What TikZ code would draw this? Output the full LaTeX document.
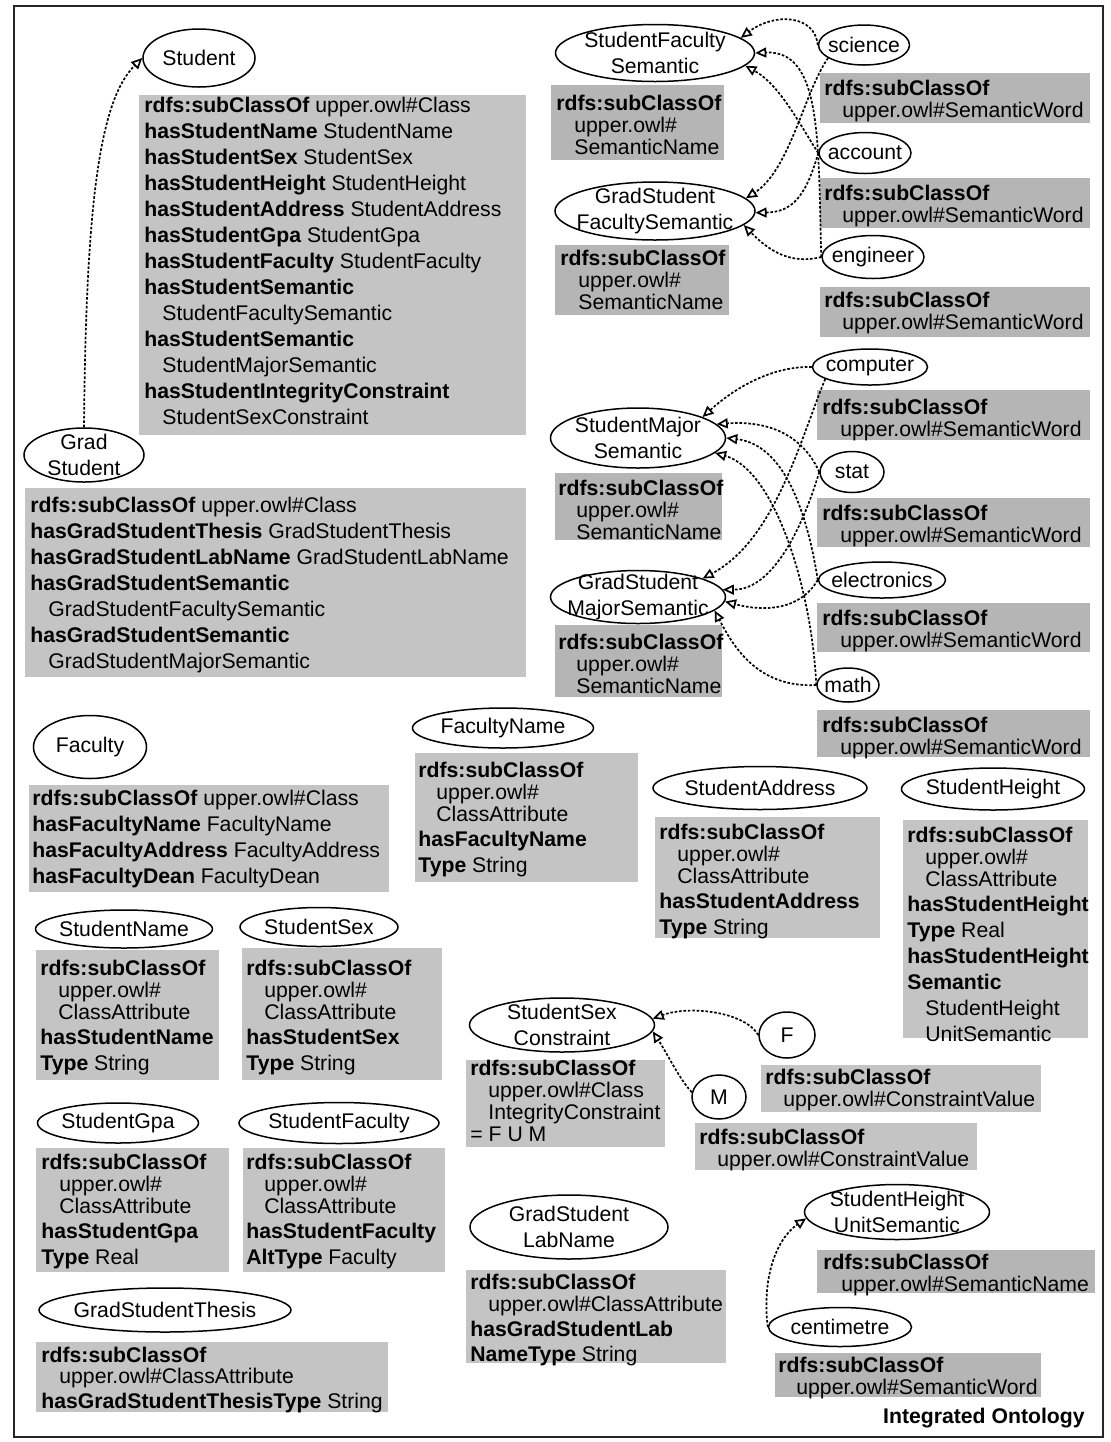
\documentclass[tikz,border=0pt]{standalone}
\usepackage{fontspec}
\setmainfont{Liberation Sans}
\usetikzlibrary{arrows.meta,shapes.geometric,fit}
\newdimen\pxu \pxu=0.5pt
\newcommand\pfont{\fontsize{10.6pt}{13pt}\selectfont}
\newcommand\kw[1]{\textbf{#1}}
\newcommand\indt{\hspace*{9pt}}
\newcommand\smname{\kw{rdfs:subClassOf}\\[-2pt]\indt upper.owl\#\\[-2pt]\indt SemanticName}
\newcommand\swword{\kw{rdfs:subClassOf}\\[-2pt]\indt upper.owl\#SemanticWord}
\newcommand\clattr{\kw{rdfs:subClassOf}\\[-2pt]\indt upper.owl\#\\[-2pt]\indt ClassAttribute\\[-0.5pt]}
\begin{document}
\begin{tikzpicture}[x=0.5pt,y=-0.5pt,font=\pfont,
  ell/.style 2 args={ellipse,draw,line width=0.75pt,minimum width=#1\pxu,minimum height=#2\pxu,inner xsep=-40pt,inner ysep=-40pt,align=center},
  gbox/.style={fill=black!23,inner sep=0pt},
  dbox/.style={fill=black!29,inner sep=0pt},
  txt/.style={anchor=north west,inner sep=0pt,align=left},
  arr/.style={-{Triangle[open,length=5.5pt,width=5pt]},line width=0.85pt,dash pattern=on 1.3pt off 0.9pt}]
\useasboundingbox (0,0) rectangle (1111,1442);
\fill[white] (0,0) rectangle (1111,1442);
\node[draw,line width=1pt,black!85,inner sep=0pt,fit={(14,6) (1103,1437)}] (frame) {};

% ---------- gray boxes ----------
\node[gbox,fit={(139,95) (526,435)}] (bA) {};
\node[gbox,fit={(25,488) (526,677)}] (bB) {};
\node[dbox,fit={(551,85) (724,160)}] (bsfs) {};
\node[dbox,fit={(555,245) (729,315)}] (bgsfs) {};
\node[dbox,fit={(820,73) (1090,123)}] (bsci) {};
\node[dbox,fit={(820,178) (1090,228)}] (bacc) {};
\node[dbox,fit={(820,287) (1090,337)}] (beng) {};
\node[dbox,fit={(817,390) (1090,440)}] (bcomp) {};
\node[dbox,fit={(555,473) (722,540)}] (bsms) {};
\node[dbox,fit={(817,498) (1090,547)}] (bstat) {};
\node[dbox,fit={(555,625) (722,697)}] (bgsms) {};
\node[dbox,fit={(817,603) (1090,652)}] (belec) {};
\node[dbox,fit={(817,710) (1090,757)}] (bmath) {};
\node[gbox,fit={(29,785) (389,892)}] (bfac) {};
\node[gbox,fit={(415,753) (638,882)}] (bfacn) {};
\node[gbox,fit={(655,817) (880,938)}] (bstad) {};
\node[gbox,fit={(903,820) (1088,1038)}] (bsth) {};
\node[gbox,fit={(36,950) (219,1080)}] (bstn) {};
\node[gbox,fit={(242,948) (442,1080)}] (bsts) {};
\node[gbox,fit={(466,1060) (665,1147)}] (bssc) {};
\node[gbox,fit={(761,1065) (1041,1112)}] (bF) {};
\node[gbox,fit={(695,1123) (977,1170)}] (bM) {};
\node[gbox,fit={(36,1148) (229,1272)}] (bstg) {};
\node[gbox,fit={(243,1148) (445,1272)}] (bstf) {};
\node[gbox,fit={(36,1342) (388,1412)}] (bgst) {};
\node[gbox,fit={(466,1270) (726,1363)}] (bgsln) {};
\node[dbox,fit={(817,1250) (1095,1293)}] (bshus) {};
\node[dbox,fit={(775,1353) (1041,1397)}] (bcm) {};

% ---------- box texts ----------
\node[txt] (tA) at (144,97) {\kw{rdfs:subClassOf} upper.owl\#Class\\
\kw{hasStudentName} StudentName\\
\kw{hasStudentSex} StudentSex\\
\kw{hasStudentHeight} StudentHeight\\
\kw{hasStudentAddress} StudentAddress\\
\kw{hasStudentGpa} StudentGpa\\
\kw{hasStudentFaculty} StudentFaculty\\
\kw{hasStudentSemantic}\\
\indt StudentFacultySemantic\\
\kw{hasStudentSemantic}\\
\indt StudentMajorSemantic\\
\kw{hasStudentIntegrityConstraint}\\
\indt StudentSexConstraint};
\node[txt] (tB) at (30,497) {\kw{rdfs:subClassOf} upper.owl\#Class\\
\kw{hasGradStudentThesis} GradStudentThesis\\
\kw{hasGradStudentLabName} GradStudentLabName\\
\kw{hasGradStudentSemantic}\\
\indt GradStudentFacultySemantic\\
\kw{hasGradStudentSemantic}\\
\indt GradStudentMajorSemantic};
\node[txt] (tsfs) at (556,95) {\smname};
\node[txt] (tgsfs) at (560,250) {\smname};
\node[txt] (tsci) at (824,80) {\swword};
\node[txt] (tacc) at (824,185) {\swword};
\node[txt] (teng) at (824,292) {\swword};
\node[txt] (tcomp) at (822,399) {\swword};
\node[txt] (tsms) at (558,480) {\smname};
\node[txt] (tstat) at (822,505) {\swword};
\node[txt] (tgsms) at (558,634) {\smname};
\node[txt] (telec) at (822,610) {\swword};
\node[txt] (tmath) at (822,717) {\swword};
\node[txt] (tfac) at (32,790) {\kw{rdfs:subClassOf} upper.owl\#Class\\
\kw{hasFacultyName} FacultyName\\
\kw{hasFacultyAddress} FacultyAddress\\
\kw{hasFacultyDean} FacultyDean};
\node[txt] (tfacn) at (418,762) {\clattr\kw{hasFacultyName}\\\kw{Type} String};
\node[txt] (tstad) at (659,824) {\clattr\kw{hasStudentAddress}\\\kw{Type} String};
\node[txt] (tsth) at (907,827) {\clattr\kw{hasStudentHeight}\\\kw{Type} Real\\\kw{hasStudentHeight}\\\kw{Semantic}\\\indt StudentHeight\\\indt UnitSemantic};
\node[txt] (tstn) at (40,960) {\clattr\kw{hasStudentName}\\\kw{Type} String};
\node[txt] (tsts) at (246,960) {\clattr\kw{hasStudentSex}\\\kw{Type} String};
\node[txt] (tssc) at (470,1060) {\kw{rdfs:subClassOf}\\[-2pt]\indt upper.owl\#Class\\[-2pt]\indt IntegrityConstraint\\[-2pt]= F U M};
\node[txt] (tF) at (765,1069) {\kw{rdfs:subClassOf}\\[-2pt]\indt upper.owl\#ConstraintValue};
\node[txt] (tM) at (699,1129) {\kw{rdfs:subClassOf}\\[-2pt]\indt upper.owl\#ConstraintValue};
\node[txt] (tstg) at (41,1154) {\clattr\kw{hasStudentGpa}\\\kw{Type} Real};
\node[txt] (tstf) at (246,1154) {\clattr\kw{hasStudentFaculty}\\\kw{AltType} Faculty};
\node[txt] (tgst) at (41,1347) {\kw{rdfs:subClassOf}\\[-2.5pt]\indt upper.owl\#ClassAttribute\\[-0.5pt]\kw{hasGradStudentThesisType} String};
\node[txt] (tgsln) at (470,1274) {\kw{rdfs:subClassOf}\\[-2pt]\indt upper.owl\#ClassAttribute\\[-0.5pt]\kw{hasGradStudentLab}\\[-0.5pt]\kw{NameType} String};
\node[txt] (tshus) at (823,1254) {\kw{rdfs:subClassOf}\\[-2pt]\indt upper.owl\#SemanticName};
\node[txt] (tcm) at (778,1357) {\swword};
\node[anchor=east,inner sep=0pt,font=\pfont\bfseries] (title) at (1085,1418) {Integrated Ontology};

% ---------- ellipses ----------
\node[ell={112}{58}] (stu) at (199,58) {Student};
\node[ell={120}{54}] (grad) at (84,455) {Grad\\Student};
\node[ell={199}{57}] (sfs) at (655,53) {StudentFaculty\\Semantic};
\node[ell={200}{58}] (gsfs) at (655,211) {GradStudent\\FacultySemantic};
\node[ell={91}{40}] (sci) at (864,45) {science};
\node[ell={92}{41}] (acc) at (865,153) {account};
\node[ell={102}{43}] (eng) at (873,257) {engineer};
\node[ell={115}{36}] (comp) at (870,367) {computer};
\node[ell={175}{60}] (sms) at (638,438) {StudentMajor\\Semantic};
\node[ell={64}{41}] (stat) at (852,472) {stat};
\node[ell={175}{53}] (gsms) at (638,597) {GradStudent\\MajorSemantic};
\node[ell={127}{36}] (elec) at (882,580) {electronics};
\node[ell={62}{34}] (math) at (848,685) {math};
\node[ell={113}{63}] (fac) at (90,747) {Faculty};
\node[ell={181}{40}] (facn) at (503,728) {FacultyName};
\node[ell={214}{43}] (stad) at (760,788) {StudentAddress};
\node[ell={183}{42}] (sth) at (993,789) {StudentHeight};
\node[ell={177}{38}] (stn) at (124,929) {StudentName};
\node[ell={158}{39}] (sts) at (319,927) {StudentSex};
\node[ell={185}{54}] (ssc) at (562,1025) {StudentSex\\Constraint};
\node[ell={56}{46}] (F) at (787,1035) {F};
\node[ell={54}{44}] (M) at (719,1097) {M};
\node[ell={161}{40}] (stg) at (118,1123) {StudentGpa};
\node[ell={200}{41}] (stf) at (339,1123) {StudentFaculty};
\node[ell={252}{44}] (gst) at (165,1310) {GradStudentThesis};
\node[ell={198}{64}] (gsln) at (569,1227) {GradStudent\\LabName};
\node[ell={185}{55}] (shus) at (897,1212) {StudentHeight\\UnitSemantic};
\node[ell={143}{39}] (cm) at (840,1327) {centimetre};

% ---------- connectors ----------
\draw[arr] (grad.north) .. controls (86,200) and (100,100) .. (stu.west);
% faculty semantic
\draw[arr] (sci.west) .. controls (815,15) and (775,12) .. (sfs.10);
\draw[arr] (eng.west) .. controls (818,140) and (822,50) .. (sfs.0);
\draw[arr] (acc.west) .. controls (800,125) and (780,85) .. (sfs.-8);
\draw[arr] (sci.200) .. controls (805,90) and (790,170) .. (gsfs.8);
\draw[arr] (acc.west) .. controls (805,200) and (790,212) .. (gsfs.-1);
\draw[arr] (eng.west) .. controls (790,265) and (768,250) .. (gsfs.-9);
% major semantic
\draw[arr] (comp.west) .. controls (775,366) and (738,385) .. (sms.18);
\draw[arr] (comp.195) .. controls (800,440) and (775,540) .. (gsms.16);
\draw[arr] (stat.west) .. controls (805,440) and (775,420) .. (sms.10);
\draw[arr] (elec.west) .. controls (810,530) and (790,445) .. (sms.0);
\draw[arr] (math.west) .. controls (812,590) and (775,470) .. (sms.-11);
\draw[arr] (stat.west) .. controls (805,520) and (775,590) .. (gsms.5);
\draw[arr] (elec.west) .. controls (800,610) and (765,612) .. (gsms.-3);
\draw[arr] (math.west) .. controls (760,688) and (735,650) .. (gsms.-10);
% constraint values
\draw[arr] (F.west) .. controls (745,1012) and (690,1005) .. (ssc.4);
\draw[arr] (M.170) .. controls (680,1080) and (668,1055) .. (ssc.-4);
% unit semantic
\draw[arr] (cm.west) .. controls (762,1280) and (775,1240) .. (shus.184);
\end{tikzpicture}
\end{document}
